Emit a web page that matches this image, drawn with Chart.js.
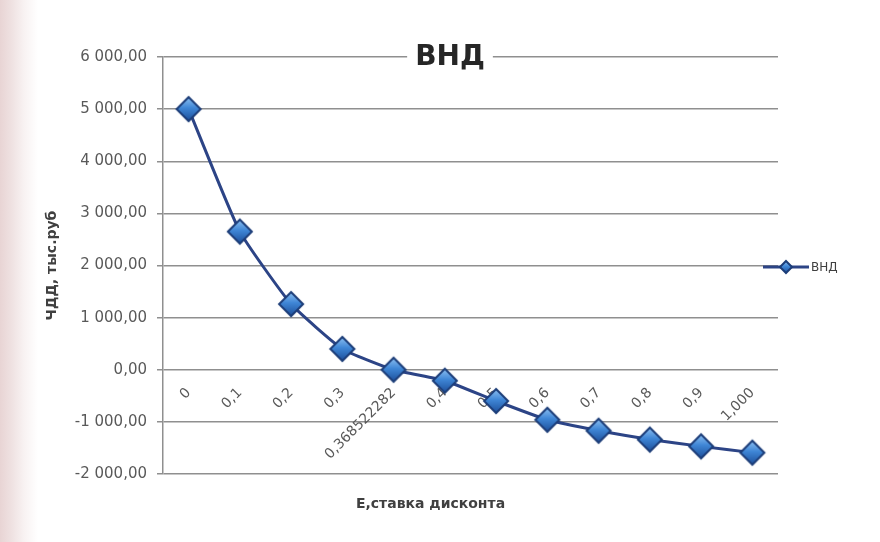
<!DOCTYPE html>
<html lang="ru">
<head>
<meta charset="utf-8">
<title>ВНД</title>
<script src="https://cdn.jsdelivr.net/npm/chart.js@4.4.1/dist/chart.umd.min.js"></script>
<style>
  html, body { margin: 0; padding: 0; }
  body {
    width: 880px; height: 542px; overflow: hidden;
    background: linear-gradient(90deg, #e8d4d4 0px, #efe2e2 12px, #f8f2f2 24px, #ffffff 38px);
  }
  #irrChart { display: block; }
</style>
</head>
<body>
<canvas id="irrChart" width="880" height="542"></canvas>
<script>
/* ---------- data ---------- */
const rates = ['0', '0,1', '0,2', '0,3', '0,368522282', '0,4', '0,5', '0,6', '0,7', '0,8', '0,9', '1,000'];
const npv   = [5000, 2650, 1260, 400, 0, -210, -600, -960, -1170, -1340, -1470, -1590];

const yMin = -2000;
const yMax = 6000;
const yStep = 1000;

const chartTitle = 'ВНД';
const seriesName = 'ВНД';
const xTitle = 'Е,ставка дисконта';
const yTitle = 'ЧДД, тыс.руб';

/* ---------- helpers ---------- */
// 6 000,00 style number
function fmt(v) {
  const parts = Math.abs(v).toFixed(2).split('.');
  const int = parts[0].replace(/\B(?=(\d{3})+(?!\d))/g, ' ');
  return (v < 0 ? '-' : '') + int + ',' + parts[1];
}

// blue diamond marker with a soft gradient
function diamond(r) {
  const s = Math.ceil(r * 2 + 6);
  const c = document.createElement('canvas');
  c.width = c.height = s;
  const g = c.getContext('2d');
  const m = s / 2;
  g.beginPath();
  g.moveTo(m, m - r); g.lineTo(m + r, m); g.lineTo(m, m + r); g.lineTo(m - r, m);
  g.closePath();
  const gr = g.createLinearGradient(m, m - r, m, m + r);
  gr.addColorStop(0, '#8ec1f2');
  gr.addColorStop(0.45, '#3f86d6');
  gr.addColorStop(1, '#1d4f9a');
  g.fillStyle = gr;
  g.fill();
  g.lineWidth = 2;
  g.strokeStyle = '#1c3d78';
  g.stroke();
  return c;
}

const marker = diamond(12);
const legendMarker = diamond(6);

/* ---------- title, axis title, legend ---------- */
const decorations = {
  id: 'decorations',
  afterDraw(chart) {
    const { ctx, chartArea } = chart;
    ctx.save();

    // chart title sits over the top gridline
    ctx.font = 'bold 28px "DejaVu Sans"';
    const tx = chart.width / 2 + 10;
    const tw = ctx.measureText(chartTitle).width;
    ctx.fillStyle = '#ffffff';
    ctx.fillRect(tx - tw / 2 - 8, chartArea.top - 16, tw + 16, 32);
    ctx.fillStyle = '#262626';
    ctx.textAlign = 'center';
    ctx.textBaseline = 'middle';
    ctx.fillText(chartTitle, tx, chartArea.top + 1);

    // category axis title
    ctx.font = 'bold 14px "DejaVu Sans"';
    ctx.fillStyle = '#404040';
    ctx.fillText(xTitle, (chartArea.left + chartArea.right) / 2 - 40, chartArea.bottom + 30);

    // legend: line + marker + name
    const ly = 267;
    ctx.strokeStyle = '#2c4486';
    ctx.lineWidth = 3;
    ctx.beginPath();
    ctx.moveTo(763, ly);
    ctx.lineTo(809, ly);
    ctx.stroke();
    ctx.drawImage(legendMarker, 786 - legendMarker.width / 2, ly - legendMarker.height / 2);
    ctx.font = '12px "DejaVu Sans"';
    ctx.fillStyle = '#404040';
    ctx.textAlign = 'left';
    ctx.fillText(seriesName, 811, ly + 1);

    ctx.restore();
  }
};

/* ---------- chart ---------- */
new Chart(document.getElementById('irrChart'), {
  type: 'line',
  data: {
    labels: rates,
    datasets: [{
      label: seriesName,
      data: npv,
      borderColor: '#2c4486',
      borderWidth: 3,
      tension: 0.15,
      pointStyle: marker,
      pointRadius: 12,
      pointHoverRadius: 12,
      fill: false
    }]
  },
  options: {
    responsive: false,
    animation: false,
    layout: { padding: { left: 0, top: 57, right: 102, bottom: 68 } },
    plugins: {
      legend: { display: false },
      title: { display: false },
      tooltip: { enabled: false }
    },
    scales: {
      x: {
        type: 'category',
        position: { y: 0 },
        offset: true,
        afterFit(scale) { scale.height = 0; },
        grid: { display: false, drawTicks: false },
        border: { display: false },
        ticks: {
          autoSkip: false,
          minRotation: 45,
          maxRotation: 45,
          padding: 15,
          color: '#595959',
          font: { family: 'DejaVu Sans', size: 14 }
        }
      },
      y: {
        position: 'left',
        min: yMin,
        max: yMax,
        afterFit(scale) { scale.width = 163; },
        grid: { color: '#8f8f8f', lineWidth: 1.5, tickLength: 6, tickColor: '#8f8f8f' },
        border: { display: true, color: '#8f8f8f', width: 1.5 },
        ticks: {
          stepSize: yStep,
          padding: 10,
          color: '#595959',
          font: { family: 'DejaVu Sans', size: 15 },
          callback: v => fmt(v)
        },
        title: {
          display: true,
          text: yTitle,
          color: '#404040',
          padding: { top: 44, bottom: 0 },
          font: { family: 'DejaVu Sans', size: 14, weight: 'bold' }
        }
      }
    }
  },
  plugins: [decorations]
});
</script>
</body>
</html>
